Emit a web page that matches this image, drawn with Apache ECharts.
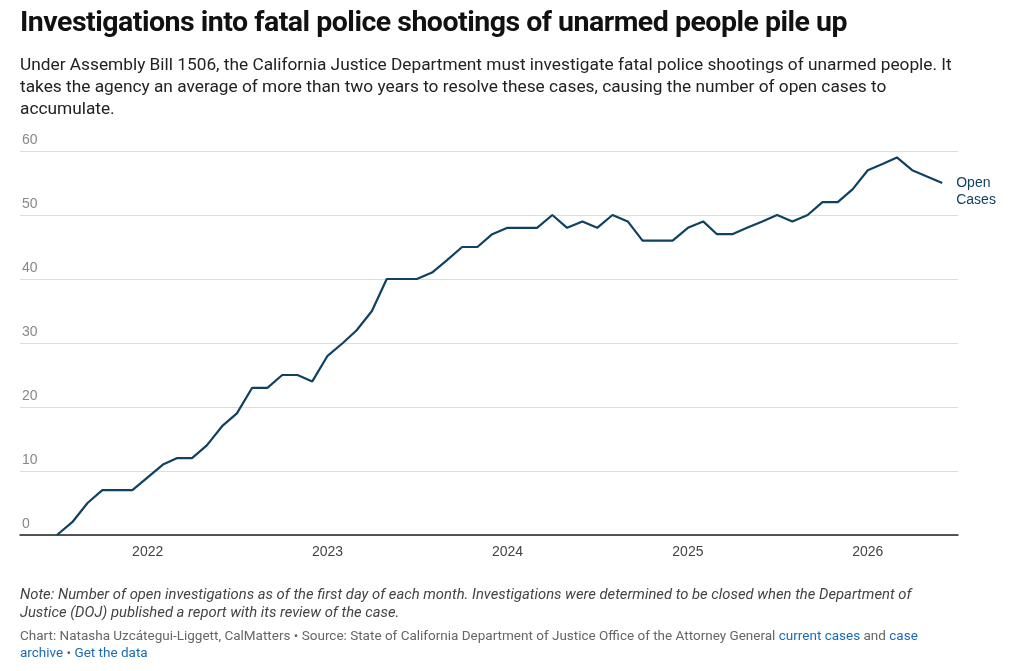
<!DOCTYPE html>
<html><head><meta charset="utf-8">
<script src="https://cdn.jsdelivr.net/npm/echarts@6/dist/echarts.min.js"></script>
<style>
body{margin:0;width:1024px;height:671px;font-family:Roboto,"Noto Sans",sans-serif;background:#fff;position:relative;overflow:hidden}
#t{position:absolute;left:20px;top:5px;font-size:28.5px;font-weight:700;color:#111;letter-spacing:-0.5px}
#s{position:absolute;left:20px;top:53px;width:940px;font-size:17.3px;line-height:22px;color:#222}
#c{position:absolute;left:0;top:0;width:1024px;height:671px}
#n{position:absolute;left:20px;top:585px;width:912px;font-size:14.8px;line-height:18px;font-style:italic;color:#444}
#src{position:absolute;left:20px;top:627px;width:940px;font-size:13.5px;line-height:17px;color:#666}
#src a{color:#1a6bb5;text-decoration:none}
</style></head><body>
<div id="c"></div>
<div id="t">Investigations into fatal police shootings of unarmed people pile up</div>
<div id="s">Under Assembly Bill 1506, the California Justice Department must investigate fatal police shootings of unarmed people. It takes the agency an average of more than two years to resolve these cases, causing the number of open cases to accumulate.</div>
<div id="n">Note: Number of open investigations as of the first day of each month. Investigations were determined to be closed when the Department of Justice (DOJ) published a report with its review of the case.</div>
<div id="src">Chart: Natasha Uzcátegui-Liggett, CalMatters • Source: State of California Department of Justice Office of the Attorney General <a>current cases</a> and <a>case archive</a> • <a>Get the data</a></div>
<script>
const startYear = 2021, startMonth = 7; // first data month
const openCases = [0,2,5,7,7,7, 9,11,12,12,14,17,19,23,23,25,25,24, 28,30,32,35,40,40,40,41,43,45,45,47, 48,48,48,50,48,49,48,50,49,46,46,46, 48,49,47,47,48,49,50,49,50,52,52,54, 57,58,59,57,56,55];
const yTicks = [0,10,20,30,40,50,60];
const seriesName = 'Open\nCases';
const data = openCases.map((v,i)=>{const d=new Date(Date.UTC(startYear,startMonth-1+i,1));return [d.getTime(),v];});
const chart = echarts.init(document.getElementById('c'));
chart.setOption({
  animation:false,
  grid:{left:20,right:66,top:151,bottom:136},
  xAxis:{type:'time',min:Date.UTC(2021,3,17),max:Date.UTC(2026,6,3),
    axisLine:{lineStyle:{color:'#222',width:1.5}},axisTick:{show:false},splitLine:{show:false},
    axisLabel:{color:'#444',fontSize:14,margin:10,hideOverlap:false,
      formatter:v=>{const d=new Date(v);return (d.getUTCMonth()===0&&d.getUTCDate()===1)?String(d.getUTCFullYear()):'';}}},
  yAxis:{type:'value',min:0,max:60,interval:10,
    axisLine:{show:false},axisTick:{show:false},
    splitLine:{lineStyle:{color:'#ddd'}},
    axisLabel:{inside:true,margin:2,verticalAlign:'bottom',color:'#888',fontSize:14,padding:[0,0,4,0],
      formatter:v=>yTicks.includes(v)?String(v):''}},
  series:[{type:'line',name:seriesName,data:data,symbol:'none',
    lineStyle:{color:'#0f4161',width:2.2},
    endLabel:{show:true,formatter:seriesName,color:'#0f4161',fontSize:14,lineHeight:17,distance:14,offset:[0,9],align:'left',verticalAlign:'middle'}}]
});
</script>
</body></html>
